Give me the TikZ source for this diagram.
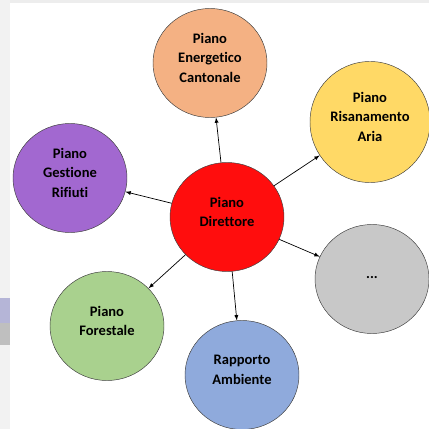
\documentclass[tikz,border=0pt]{standalone}
\usepackage{fontspec}
\setmainfont{Carlito}[Ligatures=NoCommon]
\usetikzlibrary{shapes.geometric}

\begin{document}
\begin{tikzpicture}[x=0.03cm,y=-0.03cm,
					plan/.style={ellipse,draw=black!75,thin,minimum width=3.42cm,minimum height=3.27cm,
						align=center,font=\fontsize{12.4}{16.6}\selectfont\bfseries,inner sep=0pt,text depth=9pt},
					every edge/.style={draw,semithick,-latex}]
	\useasboundingbox (0,0) rectangle (429,429);
	\fill[black!7] (0,0) rectangle (429,3);
	\fill[black!5] (0,0) rectangle (10,429);
	\fill[blue!30!gray!45] (0,298) rectangle (10,323);
	\fill[black!25] (0,323) rectangle (10,345);
	\node[plan,fill={rgb,255:red,255;green,13;blue,13}] (D) at (227,217) {Piano\\Direttore};
	\node[plan,fill={rgb,255:red,244;green,177;blue,131}] (E) at (210,63) {Piano\\Energetico\\Cantonale};
	\node[plan,fill={rgb,255:red,255;green,217;blue,102},minimum width=3.6cm,minimum height=3.63cm] (R) at (370,122) {Piano\\Risanamento\\Aria};
	\node[plan,fill={rgb,255:red,162;green,104;blue,208}] (G) at (70,178) {Piano\\Gestione\\Rifiuti};
	\node[plan,fill={rgb,255:red,200;green,200;blue,200},text depth=3pt] (A) at (372,279) {...};
	\node[plan,fill={rgb,255:red,169;green,209;blue,142}] (F) at (107,326) {Piano\\Forestale};
	\node[plan,fill={rgb,255:red,143;green,170;blue,220}] (B) at (242,375) {Rapporto\\Ambiente};
	\path (D) edge (E);
	\path (D) edge (R);
	\path (D) edge (G);
	\path (D) edge (A);
	\path (D) edge (F);
	\path (D) edge (B);
\end{tikzpicture}
\end{document}
